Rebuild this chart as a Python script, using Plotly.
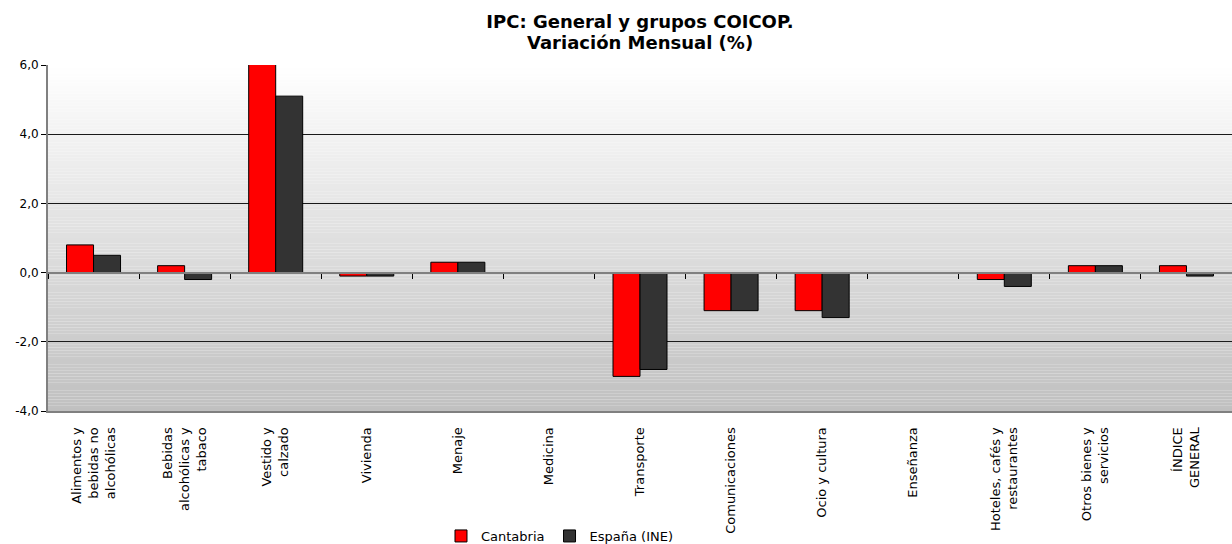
import plotly.graph_objects as go

categories = [
    "Alimentos y<br>bebidas no<br>alcohólicas",
    "Bebidas<br>alcohólicas y<br>tabaco",
    "Vestido y<br>calzado",
    "Vivienda",
    "Menaje",
    "Medicina",
    "Transporte",
    "Comunicaciones",
    "Ocio y cultura",
    "Enseñanza",
    "Hoteles, cafés y<br>restaurantes",
    "Otros bienes y<br>servicios",
    "ÍNDICE<br>GENERAL",
]
cantabria = [0.8, 0.2, 6.1, -0.1, 0.3, 0.0, -3.0, -1.1, -1.1, 0.0, -0.2, 0.2, 0.2]
espana = [0.5, -0.2, 5.1, -0.1, 0.3, 0.0, -2.8, -1.1, -1.3, 0.0, -0.4, 0.2, -0.1]
series_names = ["Cantabria", "España (INE)"]
y_ticks = [-4, -2, 0, 2, 4, 6]
y_ticktext = [("%.1f" % v).replace(".", ",") for v in y_ticks]

FONT = "DejaVu Sans, Verdana, sans-serif"

fig = go.Figure()
fig.add_trace(go.Bar(x=categories, y=cantabria, name=series_names[0],
                     marker=dict(color="#ff0000", line=dict(color="#000000", width=1))))
fig.add_trace(go.Bar(x=categories, y=espana, name=series_names[1],
                     marker=dict(color="#333333", line=dict(color="#000000", width=1))))

# gradient background of the plot area (white -> silver)
n_bands = 120
shapes = []
for i in range(n_bands):
    t = (i + 0.5) / n_bands
    top_c = (255, 255, 255)
    bot_c = (192, 192, 192)
    c = tuple(int(round(top_c[k] + (bot_c[k] - top_c[k]) * t)) for k in range(3))
    shapes.append(dict(type="rect", xref="paper", yref="paper",
                       x0=0, x1=1, y0=1 - (i + 1) / n_bands, y1=1 - i / n_bands,
                       fillcolor="rgb(%d,%d,%d)" % c, line=dict(width=0), layer="below"))

fig.update_layout(
    width=1232, height=544,
    margin=dict(l=48, r=0, t=65, b=133, autoexpand=False),
    paper_bgcolor="white",
    plot_bgcolor="rgba(0,0,0,0)",
    font=dict(family=FONT, size=12, color="#000000"),
    barmode="group",
    bargap=0.407,
    bargroupgap=0,
    shapes=shapes,
    title=dict(text="<b>IPC: General y grupos COICOP.</b>", x=0.5, xref="paper",
               xanchor="center", y=1 - 22 / 544, yref="container", yanchor="middle",
               font=dict(family=FONT, size=18, color="#000000")),
    annotations=[dict(text="<b>Variación Mensual (%)</b>", xref="paper", yref="paper",
                      x=0.5, y=1, yshift=23, xanchor="center", yanchor="middle",
                      showarrow=False, font=dict(family=FONT, size=18, color="#000000"))],
    showlegend=True,
    legend=dict(orientation="h", x=0.432, xanchor="center", y=-125 / 346, yanchor="middle",
                yref="paper", font=dict(family=FONT, size=13), itemwidth=30,
                bgcolor="rgba(0,0,0,0)", traceorder="normal"),
    xaxis=dict(type="category", tickangle=-90, showgrid=False, ticks="",
               showline=True, linecolor="#808080", linewidth=2,
               ticklabelstandoff=9,
               tickfont=dict(family=FONT, size=13), automargin=False),
    xaxis2=dict(type="category", matches="x", overlaying="x", anchor="free",
                position=0.4, showticklabels=False, showgrid=False,
                ticks="outside", tickson="boundaries", ticklen=5, tickcolor="#000000",
                showline=True, linecolor="#808080", linewidth=2),
    yaxis=dict(range=[-4, 6], tickvals=y_ticks, ticktext=y_ticktext,
               showgrid=True, gridcolor="#1a1a1a", gridwidth=1,
               zeroline=False, showline=True, linecolor="#808080", linewidth=2,
               ticks="outside", ticklen=5, tickcolor="#000000",
               tickfont=dict(family=FONT, size=12), automargin=False),
)
# invisible trace so that the secondary (zero-line) category axis renders
fig.add_trace(go.Bar(x=categories, y=[None] * len(categories), xaxis="x2",
                     showlegend=False, hoverinfo="skip", marker=dict(color="rgba(0,0,0,0)")))

fig.write_html("out.html", config={"displayModeBar": False},
               post_script="document.body.style.margin='0';document.body.style.padding='0';")
